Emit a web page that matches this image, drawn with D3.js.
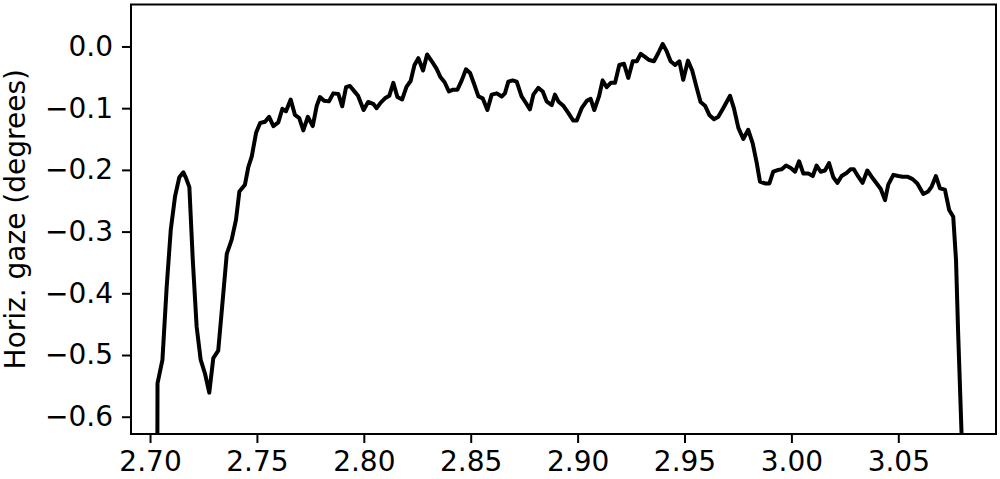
<!DOCTYPE html>
<html>
<head>
<meta charset="utf-8">
<script src="https://cdn.jsdelivr.net/npm/d3@7"></script>
<style>
  html, body { margin: 0; padding: 0; background: #fff; }
  svg { display: block; font-family: "DejaVu Sans", sans-serif; }
</style>
</head>
<body>
<div class="graph"></div>
<script>
// time (s) and horizontal gaze (deg)
var timeS = [
  2.7034, 2.7035, 2.7058, 2.7078, 2.7097, 2.7117, 2.7137, 2.7156, 2.7168, 2.7184,
  2.7200, 2.7218, 2.7237, 2.7257, 2.7277, 2.7296, 2.7319, 2.7340, 2.7359, 2.7382,
  2.7402, 2.7418, 2.7444, 2.7460, 2.7476, 2.7496, 2.7515, 2.7538, 2.7557, 2.7577,
  2.7600, 2.7619, 2.7636, 2.7658, 2.7678, 2.7698, 2.7717, 2.7738, 2.7761, 2.7780,
  2.7795, 2.7814, 2.7837, 2.7857, 2.7881, 2.7899, 2.7917, 2.7935, 2.7954, 2.7973,
  2.7999, 2.8020, 2.8044, 2.8060, 2.8079, 2.8099, 2.8119, 2.8138, 2.8157, 2.8179,
  2.8200, 2.8219, 2.8237, 2.8255, 2.8277, 2.8296, 2.8318, 2.8340, 2.8359, 2.8378,
  2.8398, 2.8417, 2.8438, 2.8458, 2.8478, 2.8497, 2.8515, 2.8536, 2.8556, 2.8578,
  2.8598, 2.8622, 2.8645, 2.8660, 2.8676, 2.8696, 2.8715, 2.8738, 2.8759, 2.8777,
  2.8793, 2.8816, 2.8837, 2.8855, 2.8879, 2.8894, 2.8910, 2.8933, 2.8957, 2.8979,
  2.8996, 2.9019, 2.9043, 2.9061, 2.9078, 2.9100, 2.9117, 2.9136, 2.9155, 2.9175,
  2.9195, 2.9217, 2.9237, 2.9258, 2.9277, 2.9295, 2.9315, 2.9335, 2.9357, 2.9377,
  2.9398, 2.9417, 2.9435, 2.9456, 2.9476, 2.9494, 2.9516, 2.9536, 2.9557, 2.9575,
  2.9596, 2.9616, 2.9638, 2.9658, 2.9681, 2.9713, 2.9731, 2.9752, 2.9775, 2.9798,
  2.9819, 2.9838, 2.9853, 2.9877, 2.9897, 2.9915, 2.9939, 2.9955, 2.9975, 2.9997,
  3.0017, 3.0036, 3.0056, 3.0079, 3.0100, 3.0118, 3.0137, 3.0157, 3.0176, 3.0196,
  3.0215, 3.0235, 3.0258, 3.0277, 3.0292, 3.0313, 3.0333, 3.0355, 3.0375, 3.0399,
  3.0418, 3.0438, 3.0453, 3.0477, 3.0500, 3.0520, 3.0542, 3.0567, 3.0589, 3.0617,
  3.0640, 3.0656, 3.0676, 3.0695, 3.0718, 3.0738, 3.0757, 3.0770, 3.0780, 3.0803
];
var gazeDeg = [
  -0.700, -0.546, -0.508, -0.389, -0.297, -0.243, -0.212, -0.204, -0.213, -0.228,
  -0.346, -0.454, -0.508, -0.530, -0.561, -0.505, -0.493, -0.411, -0.336, -0.313,
  -0.281, -0.235, -0.224, -0.195, -0.178, -0.140, -0.124, -0.122, -0.114, -0.129,
  -0.123, -0.101, -0.105, -0.086, -0.111, -0.116, -0.136, -0.114, -0.129, -0.096,
  -0.082, -0.088, -0.089, -0.076, -0.077, -0.097, -0.066, -0.064, -0.072, -0.080,
  -0.103, -0.090, -0.093, -0.100, -0.091, -0.084, -0.080, -0.059, -0.082, -0.086,
  -0.065, -0.056, -0.030, -0.019, -0.039, -0.013, -0.024, -0.036, -0.050, -0.058,
  -0.073, -0.070, -0.070, -0.055, -0.037, -0.043, -0.060, -0.081, -0.084, -0.103,
  -0.078, -0.076, -0.081, -0.076, -0.057, -0.055, -0.057, -0.081, -0.092, -0.102,
  -0.078, -0.067, -0.073, -0.089, -0.095, -0.078, -0.089, -0.096, -0.108, -0.120,
  -0.120, -0.100, -0.088, -0.085, -0.103, -0.081, -0.055, -0.066, -0.059, -0.059,
  -0.030, -0.028, -0.051, -0.024, -0.024, -0.012, -0.017, -0.022, -0.024, -0.011,
   0.004, -0.008, -0.024, -0.030, -0.024, -0.054, -0.023, -0.039, -0.067, -0.090,
  -0.096, -0.111, -0.118, -0.114, -0.100, -0.080, -0.100, -0.132, -0.150, -0.135,
  -0.157, -0.189, -0.219, -0.222, -0.222, -0.203, -0.200, -0.199, -0.193, -0.197,
  -0.203, -0.186, -0.206, -0.206, -0.210, -0.193, -0.203, -0.201, -0.189, -0.212,
  -0.221, -0.210, -0.205, -0.199, -0.199, -0.211, -0.221, -0.201, -0.211, -0.222,
  -0.231, -0.249, -0.224, -0.208, -0.210, -0.211, -0.211, -0.215, -0.222, -0.239,
  -0.235, -0.227, -0.210, -0.230, -0.232, -0.265, -0.276, -0.346, -0.465, -0.700
];
var xTicks = [2.70, 2.75, 2.80, 2.85, 2.90, 2.95, 3.00, 3.05];
var yTicks = [0.0, -0.1, -0.2, -0.3, -0.4, -0.5, -0.6];
var yLabel = "Horiz. gaze (degrees)";

var W = 1000, H = 479;
var margin = {top: 4.5, right: 4, bottom: 45, left: 131};
var fontSize = 28;

var svg = d3.select(".graph").append("svg")
  .attr("width", W)
  .attr("height", H);

var x = d3.scaleLinear()
  .domain([2.6911, 3.0957])
  .range([margin.left, W - margin.right]);
var y = d3.scaleLinear()
  .domain([-0.628, 0.068])
  .range([H - margin.bottom, margin.top]);

svg.append("clipPath").attr("id", "plotclip")
  .append("rect")
  .attr("x", margin.left)
  .attr("y", margin.top)
  .attr("width", W - margin.right - margin.left)
  .attr("height", H - margin.bottom - margin.top);

var pts = timeS.map(function(t, i){ return [t, gazeDeg[i]]; });
var line = d3.line()
  .x(function(d){ return x(d[0]); })
  .y(function(d){ return y(d[1]); });

svg.append("path")
  .datum(pts)
  .attr("clip-path", "url(#plotclip)")
  .attr("d", line)
  .style("fill", "none")
  .style("stroke", "#000")
  .style("stroke-width", "4px")
  .style("stroke-linejoin", "round")
  .style("stroke-linecap", "butt");

// axes
var xAxis = svg.append("g")
  .attr("transform", "translate(0," + (H - margin.bottom) + ")")
  .call(d3.axisBottom(x).tickValues(xTicks).tickFormat(d3.format(".2f")).tickSize(9).tickPadding(8).tickSizeOuter(0));
var yAxis = svg.append("g")
  .attr("transform", "translate(" + margin.left + ",0)")
  .call(d3.axisLeft(y).tickValues(yTicks).tickFormat(d3.format(".1f")).tickSize(9).tickPadding(9).tickSizeOuter(0));

[xAxis, yAxis].forEach(function(a){
  a.select(".domain").remove();
  a.selectAll(".tick line").style("stroke", "#000").style("stroke-width", "2px");
  a.selectAll(".tick text")
    .style("font-family", "'DejaVu Sans', sans-serif")
    .style("font-size", fontSize + "px")
    .style("fill", "#000");
});

// frame
svg.append("rect")
  .attr("x", margin.left)
  .attr("y", margin.top)
  .attr("width", W - margin.right - margin.left)
  .attr("height", H - margin.bottom - margin.top)
  .style("fill", "none")
  .style("stroke", "#000")
  .style("stroke-width", "2px");

svg.append("text")
  .attr("transform", "translate(25," + ((margin.top + H - margin.bottom) / 2) + ") rotate(-90)")
  .attr("text-anchor", "middle")
  .style("font-size", fontSize + "px")
  .style("fill", "#000")
  .text(yLabel);
</script>
</body>
</html>
